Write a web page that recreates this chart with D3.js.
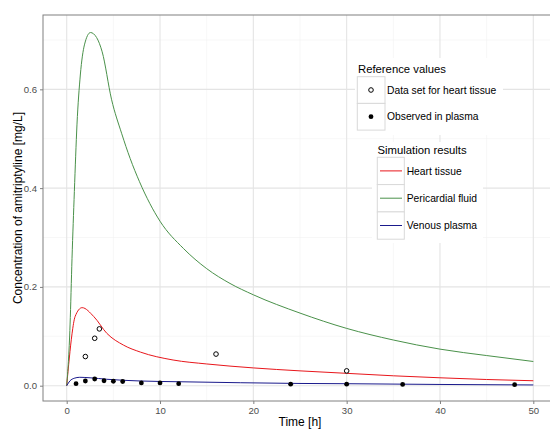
<!DOCTYPE html>
<html>
<head>
<meta charset="utf-8">
<script src="https://cdn.jsdelivr.net/npm/d3@7"></script>
<style>
  body { margin: 0; background: white; }
  text { font-family: 'Liberation Sans', Arial, Helvetica, sans-serif; }
</style>
</head>
<body>
<script>
// simulated curves
let heartT = [0, 0.28, 0.57, 0.9, 1.65, 2.9, 4.3, 6.1, 7.9, 11.4, 15, 20, 25, 30, 35, 40, 45, 50];
let heartV = [0, 0.056, 0.105, 0.14, 0.158, 0.14, 0.106, 0.082, 0.068, 0.052, 0.044, 0.036, 0.030, 0.025, 0.020, 0.016, 0.0125, 0.010];

let periT = [0, 0.36, 0.57, 0.82, 1.1, 1.46, 1.9, 2.55, 3.2, 3.8, 4.8, 5.9, 6.8, 7.8, 10, 12.5, 15, 17.5, 20, 25, 30, 35, 40, 45, 50];
let periV = [0, 0.123, 0.258, 0.393, 0.528, 0.629, 0.69, 0.715, 0.705, 0.676, 0.58, 0.51, 0.46, 0.413, 0.333, 0.278, 0.237, 0.207, 0.184, 0.147, 0.116, 0.0925, 0.074, 0.061, 0.049];

let plasmaT = [0, 0.36, 0.8, 1.4, 2.5, 4.3, 7.9, 12, 18.6, 25, 30, 40, 50];
let plasmaV = [0, 0.010, 0.015, 0.017, 0.016, 0.013, 0.0095, 0.008, 0.006, 0.0045, 0.004, 0.0025, 0.0015];

// reference points
let heartObsT = [2, 3, 3.5, 16, 30];
let heartObsV = [0.059, 0.096, 0.115, 0.064, 0.030];

let plasmaObsT = [1, 2, 3, 4, 5, 6, 8, 10, 12, 24, 30, 36, 48];
let plasmaObsV = [0.004, 0.0095, 0.0135, 0.010, 0.009, 0.0085, 0.0055, 0.0055, 0.004, 0.003, 0.003, 0.0025, 0.002];

let xTicks = [0, 10, 20, 30, 40, 50];
let yTicks = [0, 0.2, 0.4, 0.6];

let width = 550, height = 430;
let svg = d3.select('body').append('svg').attr('width', width).attr('height', height);

let panel = { left: 43, right: 557, top: 15, bottom: 401 };
let scaleX = d3.scaleLinear([-2.54, 52.54], [panel.left, panel.right]);
let scaleY = d3.scaleLinear([-0.031, 0.7505], [panel.bottom, panel.top]);

// grid
let minorX = d3.range(5, 55, 10);
let minorY = [0.1, 0.3, 0.5, 0.7];
let grid = svg.append('g');
grid.selectAll('.mx').data(minorX).enter().append('line')
  .attr('x1', d => scaleX(d)).attr('x2', d => scaleX(d))
  .attr('y1', panel.top).attr('y2', panel.bottom)
  .attr('stroke', '#f2f2f2').attr('stroke-width', 0.6);
grid.selectAll('.my').data(minorY).enter().append('line')
  .attr('y1', d => scaleY(d)).attr('y2', d => scaleY(d))
  .attr('x1', panel.left).attr('x2', panel.right)
  .attr('stroke', '#f2f2f2').attr('stroke-width', 0.6);
grid.selectAll('.gx').data(xTicks).enter().append('line')
  .attr('x1', d => scaleX(d)).attr('x2', d => scaleX(d))
  .attr('y1', panel.top).attr('y2', panel.bottom)
  .attr('stroke', '#e4e4e4').attr('stroke-width', 1.1);
grid.selectAll('.gy').data(yTicks).enter().append('line')
  .attr('y1', d => scaleY(d)).attr('y2', d => scaleY(d))
  .attr('x1', panel.left).attr('x2', panel.right)
  .attr('stroke', '#e4e4e4').attr('stroke-width', 1.1);

// lines
let series = [
  { t: heartT, v: heartV, color: '#e8161b', name: 'Heart tissue' },
  { t: periT, v: periV, color: '#4a914a', name: 'Pericardial fluid' },
  { t: plasmaT, v: plasmaV, color: '#1a1a8c', name: 'Venous plasma' },
];
let line = d3.line()
  .curve(d3.curveMonotoneX)
  .x(d => scaleX(d[0]))
  .y(d => scaleY(d[1]));

svg.append('g').selectAll('path').data(series).enter().append('path')
  .attr('d', s => line(s.t.map((t, i) => [t, s.v[i]])))
  .attr('fill', 'none')
  .attr('stroke', s => s.color)
  .attr('stroke-width', 1);

// points
svg.append('g').selectAll('circle').data(heartObsT).enter().append('circle')
  .attr('cx', d => scaleX(d))
  .attr('cy', (d, i) => scaleY(heartObsV[i]))
  .attr('r', 2.3)
  .attr('fill', 'white').attr('stroke', 'black').attr('stroke-width', 1);
svg.append('g').selectAll('circle').data(plasmaObsT).enter().append('circle')
  .attr('cx', d => scaleX(d))
  .attr('cy', (d, i) => scaleY(plasmaObsV[i]))
  .attr('r', 2.4)
  .attr('fill', 'black');

// panel border + ticks
svg.append('rect')
  .attr('x', panel.left).attr('y', panel.top)
  .attr('width', panel.right - panel.left).attr('height', panel.bottom - panel.top)
  .attr('fill', 'none').attr('stroke', '#808080').attr('stroke-width', 1);

let xAxis = svg.append('g').attr('transform', `translate(0,${panel.bottom})`)
  .call(d3.axisBottom(scaleX).tickValues(xTicks).tickSize(3).tickPadding(3).tickFormat(d3.format('d')));
let yAxis = svg.append('g').attr('transform', `translate(${panel.left},0)`)
  .call(d3.axisLeft(scaleY).tickValues(yTicks).tickSize(3).tickPadding(3).tickFormat(d3.format('.1f')));
[xAxis, yAxis].forEach(a => {
  a.select('.domain').remove();
  a.selectAll('line').attr('stroke', '#808080');
  a.selectAll('text').attr('fill', '#4d4d4d').style('font-size', '9.6px')
    .style('font-family', "'Liberation Sans', Arial, sans-serif");
});

svg.append('text')
  .attr('x', (panel.left + panel.right) / 2).attr('y', 426)
  .attr('text-anchor', 'middle').style('font-size', '12px')
  .text('Time [h]');
svg.append('text')
  .attr('transform', `translate(22,${(panel.top + panel.bottom) / 2}) rotate(-90)`)
  .attr('text-anchor', 'middle').style('font-size', '12px')
  .text('Concentration of amitriptyline [mg/L]');

// legend 1: reference values
let leg1 = svg.append('g');
leg1.append('rect').attr('x', 355).attr('y', 58).attr('width', 148).attr('height', 77).attr('fill', 'white');
leg1.append('text').attr('x', 358).attr('y', 72.5).style('font-size', '11.3px').text('Reference values');
let refItems = ['Data set for heart tissue', 'Observed in plasma'];
refItems.forEach((name, i) => {
  let y0 = 76.7 + i * 26.7;
  leg1.append('rect').attr('x', 357.3).attr('y', y0).attr('width', 27.7).attr('height', 26.7)
    .attr('fill', 'white').attr('stroke', '#d9d9d9').attr('stroke-width', 1);
  leg1.append('circle').attr('cx', 371).attr('cy', y0 + 13.3).attr('r', i == 0 ? 2.3 : 2.4)
    .attr('fill', i == 0 ? 'white' : 'black').attr('stroke', i == 0 ? 'black' : 'none').attr('stroke-width', 1);
  leg1.append('text').attr('x', 387).attr('y', y0 + 13.3).attr('dy', '0.35em')
    .style('font-size', '10.3px').text(name);
});

// legend 2: simulation results
let leg2 = svg.append('g');
leg2.append('rect').attr('x', 372).attr('y', 142).attr('width', 111).attr('height', 101).attr('fill', 'white');
leg2.append('text').attr('x', 377.5).attr('y', 154).style('font-size', '11.3px').text('Simulation results');
series.forEach((s, i) => {
  let y0 = 157.3 + i * 27.3;
  leg2.append('rect').attr('x', 377.3).attr('y', y0).attr('width', 27).attr('height', 27.3)
    .attr('fill', 'white').attr('stroke', '#d9d9d9').attr('stroke-width', 1);
  leg2.append('line').attr('x1', 380).attr('x2', 402).attr('y1', y0 + 13.6).attr('y2', y0 + 13.6)
    .attr('stroke', s.color).attr('stroke-width', 1);
  leg2.append('text').attr('x', 406.7).attr('y', y0 + 13.6).attr('dy', '0.35em')
    .style('font-size', '10.3px').text(s.name);
});
</script>
</body>
</html>
